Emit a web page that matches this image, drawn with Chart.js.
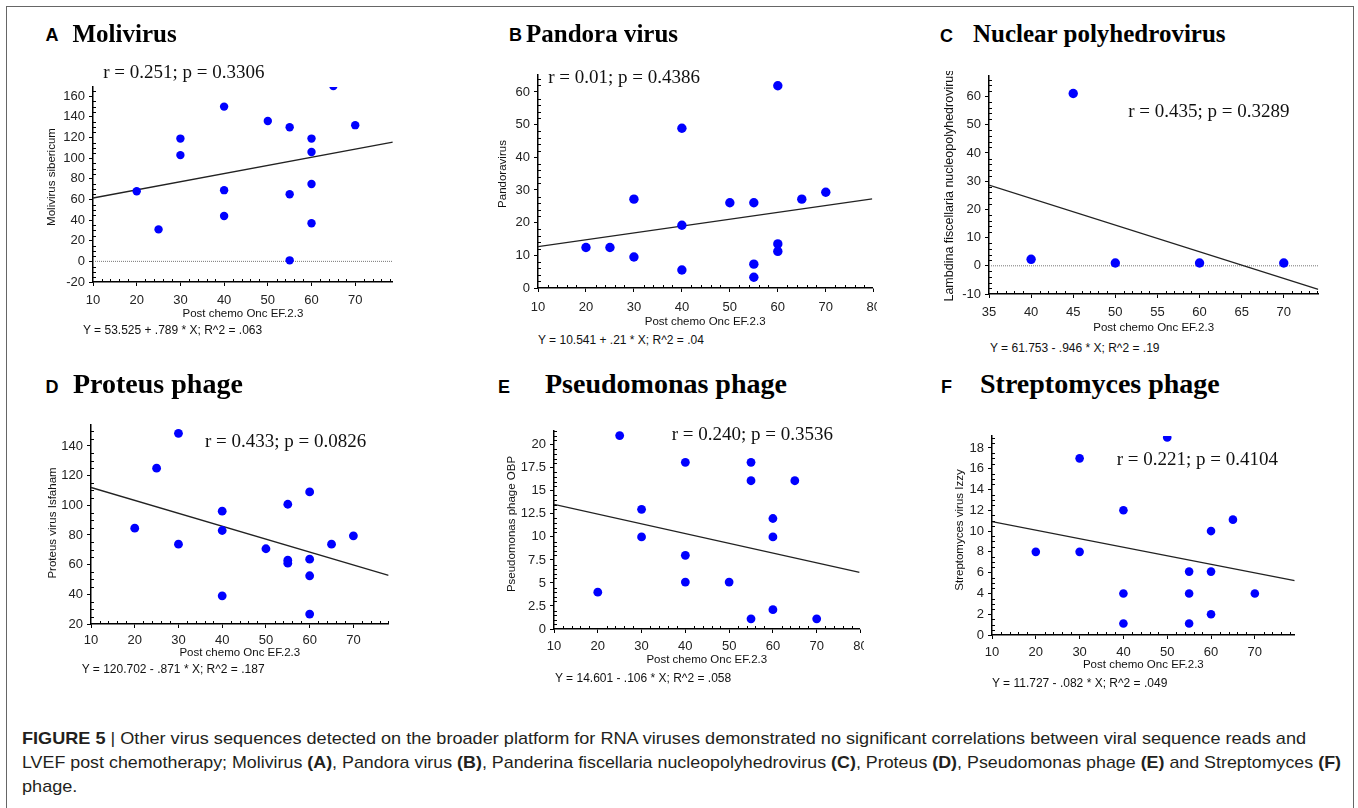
<!DOCTYPE html>
<html>
<head>
<meta charset="utf-8">
<script src="https://cdn.jsdelivr.net/npm/chart.js@4.4.1/dist/chart.umd.min.js"></script>
<style>
  body { margin: 0; background: #fff; width: 1358px; height: 808px; overflow: hidden; position: relative; }
  .frame { position: absolute; left: 6px; top: 6px; width: 1346px; height: 830px; border: 1.5px solid #666; border-bottom: none; }
  canvas { position: absolute; }
  .txt { position: absolute; white-space: nowrap; color: #000; }
  .letter { font: bold 18px 'Liberation Sans', Arial, sans-serif; line-height: 1; }
  .name { font-family: 'Liberation Serif', 'Times New Roman', serif; font-weight: bold; line-height: 1; }
  .rp { font: 19px 'Liberation Serif', 'Times New Roman', serif; color: #111; line-height: 1; }
  .eq { font: 12px 'Liberation Sans', Arial, sans-serif; color: #111; line-height: 1; }
  .caption { position: absolute; left: 22px; top: 727px; font: 17px 'Liberation Sans', Arial, sans-serif;
             line-height: 24px; color: #231f20; white-space: nowrap; }
  .caption span { display: inline-block; transform-origin: 0 0; }
</style>
</head>
<body>
<div class="frame"></div>
<div id="panels"></div>
<div class="caption" id="caption">
  <span class="capLine"><b>FIGURE 5</b> | Other virus sequences detected on the broader platform for RNA viruses demonstrated no significant correlations between viral sequence reads and</span><br>
  <span class="capLine">LVEF post chemotherapy; Molivirus <b>(A)</b>, Pandora virus <b>(B)</b>, Panderina fiscellaria nucleopolyhedrovirus <b>(C)</b>, Proteus <b>(D)</b>, Pseudomonas phage <b>(E)</b> and Streptomyces <b>(F)</b></span><br>
  <span class="capLine">phage.</span>
</div>
<script>
// Datos (x = Post chemo Onc EF.2.3)
// A - Molivirus
const moliX = [20, 25, 30, 30, 40, 40, 40, 50, 55, 55, 55, 60, 60, 60, 60, 65, 70];
const moliY = [68, 31, 119, 103, 150, 69, 44, 136, 130, 65, 1, 119, 106, 75, 37, 170, 132];
// B - Pandora virus
const pandX = [20, 25, 30, 30, 40, 40, 40, 50, 55, 55, 55, 60, 60, 60, 65, 70];
const pandY = [12.4, 12.4, 27.2, 9.5, 48.9, 19.2, 5.5, 26.1, 26.1, 7.3, 3.3, 61.9, 13.5, 11.2, 27.2, 29.3];
// C - Nuclear polyhedrovirus
const nuclX = [40, 45, 50, 60, 70];
const nuclY = [2.3, 61.1, 1, 1, 1];
// D - Proteus phage
const protX = [20, 25, 30, 30, 40, 40, 40, 50, 55, 55, 55, 60, 60, 60, 60, 65, 70];
const protY = [84.6, 125, 148.5, 73.8, 96, 83, 39, 70.7, 100.7, 63, 61, 109, 63.7, 52.5, 26.7, 73.8, 79.4];
// E - Pseudomonas phage
const pseuX = [20, 25, 30, 30, 40, 40, 40, 50, 55, 55, 55, 60, 60, 60, 65, 70];
const pseuY = [4, 21, 13, 10, 18.1, 8, 5.1, 5.1, 18.1, 16.1, 1.1, 12, 10, 2.1, 16.1, 1.1];
// F - Streptomyces phage
const strepX = [20, 30, 30, 40, 40, 40, 50, 55, 55, 55, 60, 60, 60, 65, 70];
const strepY = [8, 17, 8, 12, 4, 1.1, 19, 6.1, 4, 1.1, 10, 6.1, 2, 11.1, 4];

// Ticks (en B y E se ve la etiqueta 80 cortada en el borde)
const xTicks70 = [10, 20, 30, 40, 50, 60, 70];
const xTicks80 = [10, 20, 30, 40, 50, 60, 70, 80];
const xTicksC = [35, 40, 45, 50, 55, 60, 65, 70];
const yTicksA = [-20, 0, 20, 40, 60, 80, 100, 120, 140, 160];
const yTicksB = [0, 10, 20, 30, 40, 50, 60];
const yTicksC = [-10, 0, 10, 20, 30, 40, 50, 60];
const yTicksD = [20, 40, 60, 80, 100, 120, 140];
const yTicksE = [0, 2.5, 5, 7.5, 10, 12.5, 15, 17.5, 20];
const yTicksF = [0, 2, 4, 6, 8, 10, 12, 14, 16, 18];

// Rangos de los ejes
const xRanges = [[10, 78.6], [10, 79.7], [35, 74.1], [10, 78.05], [10, 79.8], [10, 79.1]];
const yRanges = [[-20, 169], [0, 65.2], [-10, 67.4], [20, 154.1], [0, 21.5], [0, 19.15]];

// Regresion
const intercepts = [53.525, 10.541, 61.753, 120.702, 14.601, 11.727];
const slopes = [0.789, 0.21, -0.946, -0.871, -0.106, -0.082];

// Textos
const letters = ['A', 'B', 'C', 'D', 'E', 'F'];
const titles = ['Molivirus', 'Pandora virus', 'Nuclear polyhedrovirus', 'Proteus phage', 'Pseudomonas phage', 'Streptomyces phage'];
const yTitles = ['Molivirus sibericum', 'Pandoravirus', 'Lambdina fiscellaria nucleopolyhedrovirus',
  'Proteus virus Isfaham', 'Pseudomonas phage OBP', 'Streptomyces virus Izzy'];
const xTitle = 'Post chemo Onc EF.2.3';
const rpTexts = ['r = 0.251; p = 0.3306', 'r = 0.01; p = 0.4386', 'r = 0.435; p = 0.3289',
  'r = 0.433; p = 0.0826', 'r = 0.240; p = 0.3536', 'r = 0.221; p = 0.4104'];
const eqTexts = ['Y = 53.525 + .789 * X; R^2 = .063', 'Y = 10.541 + .21 * X; R^2 = .04',
  'Y = 61.753 - .946 * X; R^2 = .19', 'Y = 120.702 - .871 * X; R^2 = .187',
  'Y = 14.601 - .106 * X; R^2 = .058', 'Y = 11.727 - .082 * X; R^2 = .049'];

const series = [[moliX, moliY], [pandX, pandY], [nuclX, nuclY], [protX, protY], [pseuX, pseuY], [strepX, strepY]];
const xTickSets = [xTicks70, xTicks80, xTicksC, xTicks70, xTicks80, xTicks70];
const yTickSets = [yTicksA, yTicksB, yTicksC, yTicksD, yTicksE, yTicksF];

// Posiciones en la pagina (area de grafico L,T,R,B y textos)
const layout = [
  { L: 93, T: 87, R: 396, B: 282, top: 10, r: 4.2, xMinor: 2, yMinor: 5, zero: true, yTitleDx: 40.7, yTitleCy: 177, yTitleSize: 11.5,
    xTickPad: 6.9, xTitlePad: 5.4, letter: [45.5, 26], name: [72.5, 20.6, 25], rp: [103.3, 62.4], eq: [83, 324.1] },
  { L: 538, T: 75, R: 876, B: 288, top: 10, r: 4.7, xMinor: 2, yMinor: 2, zero: false, yTitleDx: 35.4, yTitleCy: 174, yTitleSize: 11.5,
    xTickPad: 7.2, xTitlePad: 3.1, letter: [509, 26], name: [526, 20.6, 25], rp: [548.3, 66.8], eq: [538, 334.1] },
  { L: 989, T: 74, R: 1322, B: 294, top: 3, r: 4.7, xMinor: 1, yMinor: 2, zero: true, yTitleDx: 39, yTitleCy: 185.5, yTitleSize: 12.5,
    xTickPad: 6.6, xTitlePad: 3.1, letter: [940, 26.5], name: [973, 20.8, 25], rp: [1128.3, 100.8], eq: [990, 341.8] },
  { L: 91, T: 425, R: 392, B: 624, top: 10, r: 4.4, xMinor: 2, yMinor: 5, zero: false, yTitleDx: 38.4, yTitleCy: 523, yTitleSize: 11.5,
    xTickPad: 4.9, xTitlePad: 8.1, letter: [45.5, 378], name: [73, 369.9, 28], rp: [205, 431.4], eq: [81.7, 663.4] },
  { L: 554, T: 431, R: 863, B: 629, top: 10, r: 4.4, xMinor: 2, yMinor: 0.5, zero: false, yTitleDx: 42, yTitleCy: 524, yTitleSize: 11.5,
    xTickPad: 5.2, xTitlePad: 5.8, letter: [498, 378], name: [545, 369.9, 28], rp: [671.7, 424.1], eq: [555, 671.8] },
  { L: 992, T: 436, R: 1298, B: 635, top: 10, r: 4.3, xMinor: 2, yMinor: 0.5, zero: false, yTitleDx: 32.4, yTitleCy: 530, yTitleSize: 11.5,
    xTickPad: 5.2, xTitlePad: 6.8, letter: [941, 378], name: [980, 369.9, 28], rp: [1116.7, 449.1], eq: [992, 677.4] }
];

const Y_W = 64;   // ancho reservado para el eje y
const X_H = 44;   // alto reservado para el eje x
const fontSans = "'Liberation Sans', Arial, sans-serif";

// Marcas menores y titulo del eje y
const axisExtras = {
  id: 'axisExtras',
  afterDraw(chart, args, opts) {
    const { ctx, chartArea } = chart;
    const xs = chart.scales.x, ys = chart.scales.y;
    ctx.save();
    ctx.strokeStyle = '#000';
    ctx.lineWidth = 1;
    ctx.beginPath();
    for (let i = Math.ceil(xs.min / opts.xMinor); i * opts.xMinor <= xs.max + 1e-9; i++) {
      const v = i * opts.xMinor;
      if (opts.xt.some(t => Math.abs(t - v) < 1e-9)) continue;
      const px = Math.round(xs.getPixelForValue(v)) + 0.5;
      ctx.moveTo(px, chartArea.bottom);
      ctx.lineTo(px, chartArea.bottom - 3);
    }
    for (let i = Math.ceil(ys.min / opts.yMinor); i * opts.yMinor <= ys.max + 1e-9; i++) {
      const v = i * opts.yMinor;
      if (opts.yt.some(t => Math.abs(t - v) < 1e-9)) continue;
      const py = Math.round(ys.getPixelForValue(v)) + 0.5;
      ctx.moveTo(chartArea.left, py);
      ctx.lineTo(chartArea.left + 3, py);
    }
    ctx.stroke();

    ctx.translate(chartArea.left - opts.titleDx, opts.titleCy);
    ctx.rotate(-Math.PI / 2);
    ctx.fillStyle = '#111';
    ctx.font = opts.titleSize + 'px ' + fontSans;
    ctx.textAlign = 'center';
    ctx.textBaseline = 'middle';
    ctx.fillText(opts.title, 0, 0);
    ctx.restore();
  }
};

function addText(cls, text, left, top, size) {
  const d = document.createElement('div');
  d.className = 'txt ' + cls;
  d.textContent = text;
  d.style.left = left + 'px';
  d.style.top = top + 'px';
  if (size) d.style.fontSize = size + 'px';
  document.body.appendChild(d);
}

function renderPanel(i) {
  const lay = layout[i];
  const [xs, ys] = series[i];
  const [xMin, xMax] = xRanges[i];
  const [yMin, yMax] = yRanges[i];

  const cl = lay.L - Y_W;
  const ct = lay.T - lay.top;
  const canvas = document.createElement('canvas');
  canvas.width = lay.R + 1 - cl;
  canvas.height = lay.B + X_H - ct;
  canvas.style.left = cl + 'px';
  canvas.style.top = ct + 'px';
  document.getElementById('panels').appendChild(canvas);

  const points = xs.map((x, k) => ({ x: x, y: ys[k] }));
  const fit = [xMin, xMax].map(x => ({ x: x, y: intercepts[i] + slopes[i] * x }));

  const datasets = [
    { data: points, pointRadius: lay.r, pointHoverRadius: lay.r, backgroundColor: '#0000ff', borderWidth: 0, clip: 0 },
    { type: 'line', data: fit, borderColor: '#222', borderWidth: 1.3, pointRadius: 0, fill: false, clip: 0 }
  ];
  if (lay.zero) {
    datasets.push({ type: 'line', data: [{ x: xMin, y: 0 }, { x: xMax, y: 0 }], borderColor: '#777',
      borderWidth: 1, borderDash: [1, 1], pointRadius: 0, fill: false, clip: 0 });
  }

  new Chart(canvas, {
    type: 'scatter',
    data: { datasets: datasets },
    options: {
      responsive: false,
      animation: false,
      devicePixelRatio: 1,
      events: [],
      layout: { padding: { top: lay.top, right: 1, bottom: 0, left: 0 } },
      plugins: {
        legend: { display: false },
        tooltip: { enabled: false },
        axisExtras: { xMinor: lay.xMinor, yMinor: lay.yMinor, xt: xTickSets[i], yt: yTickSets[i],
          title: yTitles[i], titleDx: lay.yTitleDx, titleCy: lay.yTitleCy - ct, titleSize: lay.yTitleSize }
      },
      scales: {
        x: {
          type: 'linear', min: xMin, max: xMax,
          afterBuildTicks: s => { s.ticks = xTickSets[i].map(v => ({ value: v })); },
          afterFit: s => { s.height = X_H; s.paddingLeft = 0; s.paddingRight = 0; },
          ticks: { autoSkip: false, maxRotation: 0, padding: lay.xTickPad, color: '#222',
            font: { family: fontSans, size: 13 }, callback: v => String(v) },
          grid: { drawOnChartArea: false, drawTicks: true, tickLength: 4, color: '#000', lineWidth: 1 },
          border: { display: true, color: '#000', width: 1.5 },
          title: { display: true, text: xTitle, color: '#111', font: { family: fontSans, size: 11.5 },
            padding: { top: 0, bottom: lay.xTitlePad } }
        },
        y: {
          type: 'linear', min: yMin, max: yMax,
          afterBuildTicks: s => { s.ticks = yTickSets[i].map(v => ({ value: v })); },
          afterFit: s => { s.width = Y_W; s.paddingTop = 0; s.paddingBottom = 0; },
          ticks: { autoSkip: false, padding: 4, color: '#222',
            font: { family: fontSans, size: 13 }, callback: v => String(v) },
          grid: { drawOnChartArea: false, drawTicks: true, tickLength: 4, color: '#000', lineWidth: 1 },
          border: { display: true, color: '#000', width: 1.5 }
        }
      }
    },
    plugins: [axisExtras]
  });

  addText('letter', letters[i], lay.letter[0], lay.letter[1]);
  addText('name', titles[i], lay.name[0], lay.name[1], lay.name[2]);
  addText('rp', rpTexts[i], lay.rp[0], lay.rp[1]);
  addText('eq', eqTexts[i], lay.eq[0], lay.eq[1]);
}

for (let i = 0; i < layout.length; i++) renderPanel(i);

// Ajustar el ancho de cada linea del pie de figura al original
const capWidths = [1284, 1319];
const capLines = document.querySelectorAll('.capLine');
const k0 = capWidths[0] / capLines[0].getBoundingClientRect().width;
capLines.forEach((el, n) => {
  const k = n < capWidths.length ? capWidths[n] / el.getBoundingClientRect().width : k0;
  el.style.transform = 'scaleX(' + k.toFixed(4) + ')';
});
</script>
</body>
</html>
